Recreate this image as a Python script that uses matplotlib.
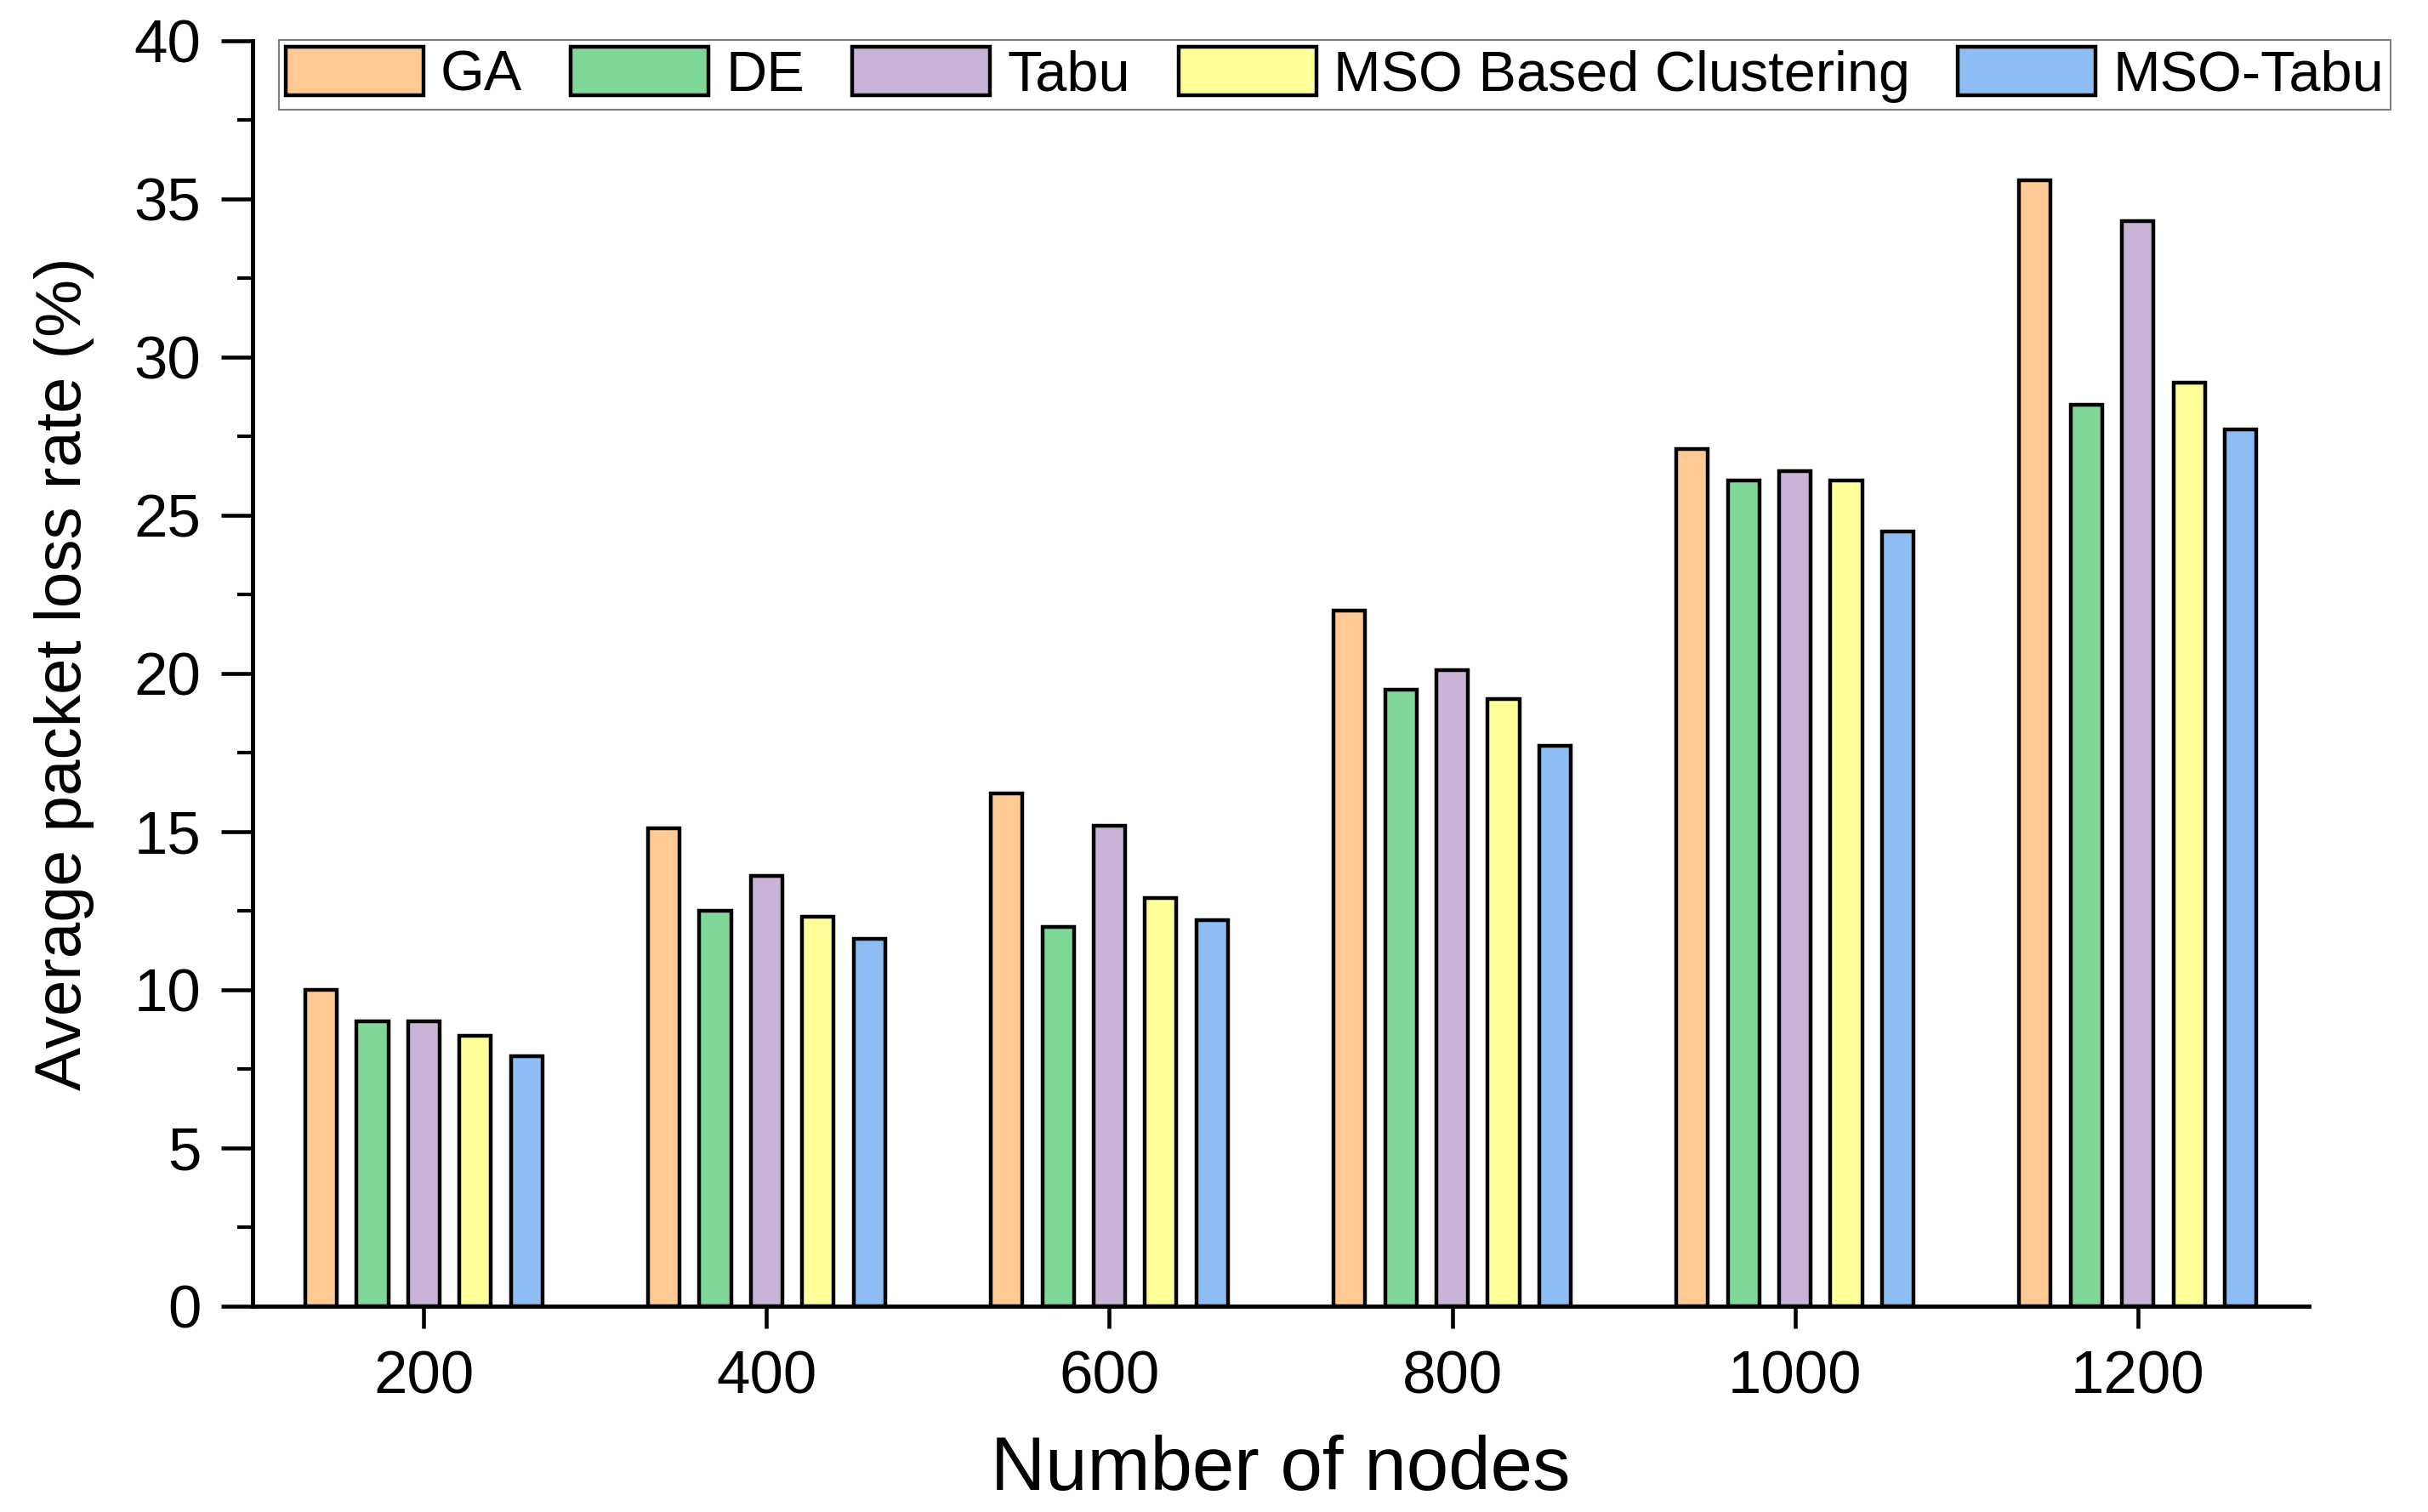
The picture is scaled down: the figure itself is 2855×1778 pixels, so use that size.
import matplotlib
matplotlib.use('Agg')
import matplotlib.pyplot as plt
import numpy as np
from matplotlib.ticker import MultipleLocator

# ---- data ----
nodes = ['200', '400', '600', '800', '1000', '1200']
series_names = ['GA', 'DE', 'Tabu', 'MSO Based Clustering', 'MSO-Tabu']
ga = [10.0, 15.1, 16.2, 22.0, 27.1, 35.6]
de = [9.0, 12.5, 12.0, 19.5, 26.1, 28.5]
tabu = [9.0, 13.6, 15.2, 20.1, 26.4, 34.3]
mso_bc = [8.55, 12.3, 12.9, 19.2, 26.1, 29.2]
mso_tabu = [7.9, 11.6, 12.2, 17.7, 24.5, 27.7]
colors = ['#FFC994', '#80D898', '#C9B4D7', '#FFFF99', '#8EBCF5']

plt.rcParams['font.family'] = ['Liberation Sans', 'DejaVu Sans']

fig = plt.figure(figsize=(28.55, 17.78), dpi=100)
ax = fig.add_axes([0.1040, 0.1361, 0.8470, 0.8370])

x = np.arange(len(nodes))
all_series = [ga, de, tabu, mso_bc, mso_tabu]
step = 0.15
bw = 0.092
for i, (vals, name, col) in enumerate(zip(all_series, series_names, colors)):
    ax.bar(x + (i - 2) * step, vals, width=bw, color=col, edgecolor='black',
           linewidth=3.2, label=name)

ax.set_xlim(-0.5, 5.5)
ax.set_ylim(0, 40)
ax.set_xticks(x)
ax.set_xticklabels(nodes)
ax.yaxis.set_major_locator(MultipleLocator(5))
ax.yaxis.set_minor_locator(MultipleLocator(2.5))

for s in ['top', 'right']:
    ax.spines[s].set_visible(False)
for s in ['left', 'bottom']:
    ax.spines[s].set_linewidth(3.5)

ax.tick_params(axis='y', which='major', direction='out', length=26.7, width=3.3,
               pad=17, labelsize=51)
ax.tick_params(axis='y', which='minor', direction='out', length=13, width=3.0)
ax.tick_params(axis='x', which='major', direction='out', length=19, width=3.3,
               pad=18, labelsize=51)

ax.set_ylabel('Average packet loss rate (%)', fontsize=55)
ax.yaxis.set_label_coords(-0.0835, 0.5)
ax.yaxis.label.set_va('baseline')

ax.set_xlabel('Number of nodes', fontsize=64)
ax.xaxis.set_label_coords(0.5, -0.1451)
ax.xaxis.label.set_va('baseline')

handles, labels = ax.get_legend_handles_labels()
leg = fig.legend(handles, labels, loc='upper left', bbox_to_anchor=(0.1149, 0.9736),
                 ncol=5, fontsize=48, handlelength=2.43, handleheight=0.945,
                 handletextpad=0.3, columnspacing=0.85, borderpad=0.12,
                 borderaxespad=0, frameon=True, fancybox=False,
                 edgecolor='#606060')
leg.get_frame().set_linewidth(1.5)

fig.savefig('out.png', dpi=100, facecolor='white')
